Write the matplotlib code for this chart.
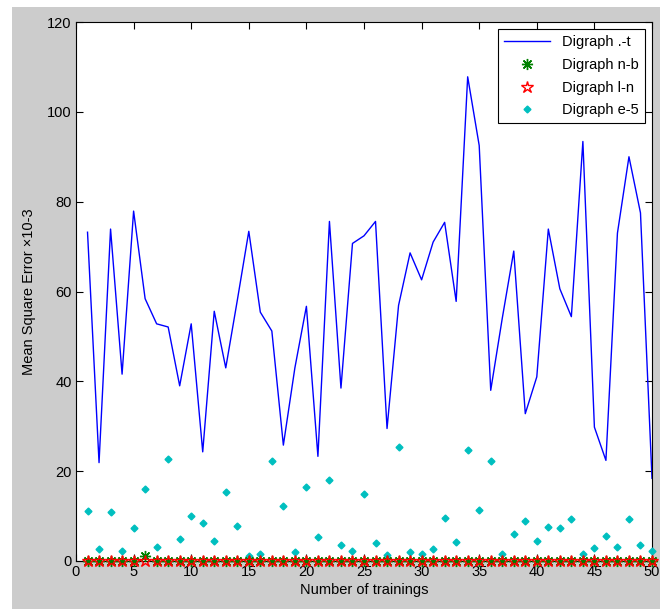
import matplotlib
matplotlib.use("Agg")
from matplotlib import pyplot as plt
from matplotlib.patches import Rectangle

plt.rcParams['font.family'] = ['Liberation Sans', 'DejaVu Sans']

trainings = list(range(1, 51))

# Digraph .-t
err_t = [73.2, 21.9, 73.9, 41.6, 77.9, 58.4, 52.8, 52.1, 39.0, 52.8,
         24.3, 55.6, 43.0, 58.0, 73.4, 55.4, 51.2, 25.8, 43.0, 56.7,
         23.3, 75.6, 38.5, 70.7, 72.4, 75.6, 29.5, 56.9, 68.6, 62.6,
         71.0, 75.4, 57.8, 107.8, 92.5, 38.0, 54.0, 69.0, 32.8, 41.0,
         73.9, 60.6, 54.4, 93.4, 29.8, 22.4, 73.0, 90.0, 77.5, 18.4]

# Digraph n-b
err_nb = [0.0] * 50
err_nb[5] = 1.2

# Digraph l-n
err_ln = [0.0] * 50

# Digraph e-5
err_e5 = [11.2, 2.6, 10.9, 2.3, 7.3, 16.1, 3.2, 22.8, 4.8, 10.0,
          8.4, 4.5, 15.3, 7.8, 1.1, 1.5, 22.2, 12.2, 2.0, 16.4,
          5.3, 18.1, 3.6, 2.3, 15.0, 3.9, 1.3, 25.3, 2.0, 1.5,
          2.6, 9.5, 4.2, 24.7, 11.4, 22.2, 1.5, 6.1, 9.0, 4.5,
          7.6, 7.3, 9.3, 1.5, 2.8, 5.6, 3.1, 9.3, 3.6, 2.3]

fig = plt.figure(figsize=(6.68, 6.09), dpi=100)
fig.patch.set_facecolor('white')
# grey matlab-like figure area
fig.patches.append(Rectangle((12 / 668, 0), 648 / 668, 1 - 7 / 609,
                             transform=fig.transFigure, facecolor='#cccccc',
                             edgecolor='none', zorder=-10))

ax = fig.add_axes([76 / 668, 1 - 561 / 609, 576 / 668, 539 / 609])
ax.set_zorder(1)
ax.set_facecolor('white')

ax.plot(trainings, err_t, color='#0000ff', lw=1.0, label='Digraph .-t')
ax.plot(trainings, err_nb, ls='none', marker=(8, 2, 0), color='#008000', ms=8,
        mew=1.0, label='Digraph n-b', clip_on=False, zorder=4)
ax.plot(trainings, err_ln, ls='none', marker='*', mfc='none', mec='#ff0000',
        ms=9, mew=1.0, label='Digraph l-n', clip_on=False, zorder=5)
ax.plot(trainings, err_e5, ls='none', marker='D', color='#00bfbf', ms=3.5,
        label='Digraph e-5', clip_on=False, zorder=3)

ax.set_xlim(0, 50)
ax.set_ylim(0, 120)
ax.set_xticks(range(0, 51, 5))
ax.set_yticks(range(0, 121, 20))
ax.tick_params(direction='in', length=5, width=0.8, top=True, right=True,
               labelsize=10.5, colors='black', pad=3)
for s in ax.spines.values():
    s.set_linewidth(0.8)
    s.set_color('black')

ax.set_xlabel('Number of trainings', fontsize=10.5, labelpad=3)
ax.set_ylabel('Mean Square Error ×10-3', fontsize=10.5, labelpad=8)

leg = ax.legend(loc='upper right', fontsize=10.5, fancybox=False,
                edgecolor='black', framealpha=1, borderaxespad=0.5,
                handlelength=3.2, labelspacing=0.6)
leg.get_frame().set_linewidth(0.8)

fig.savefig('out.png', dpi=100, facecolor=fig.get_facecolor())
